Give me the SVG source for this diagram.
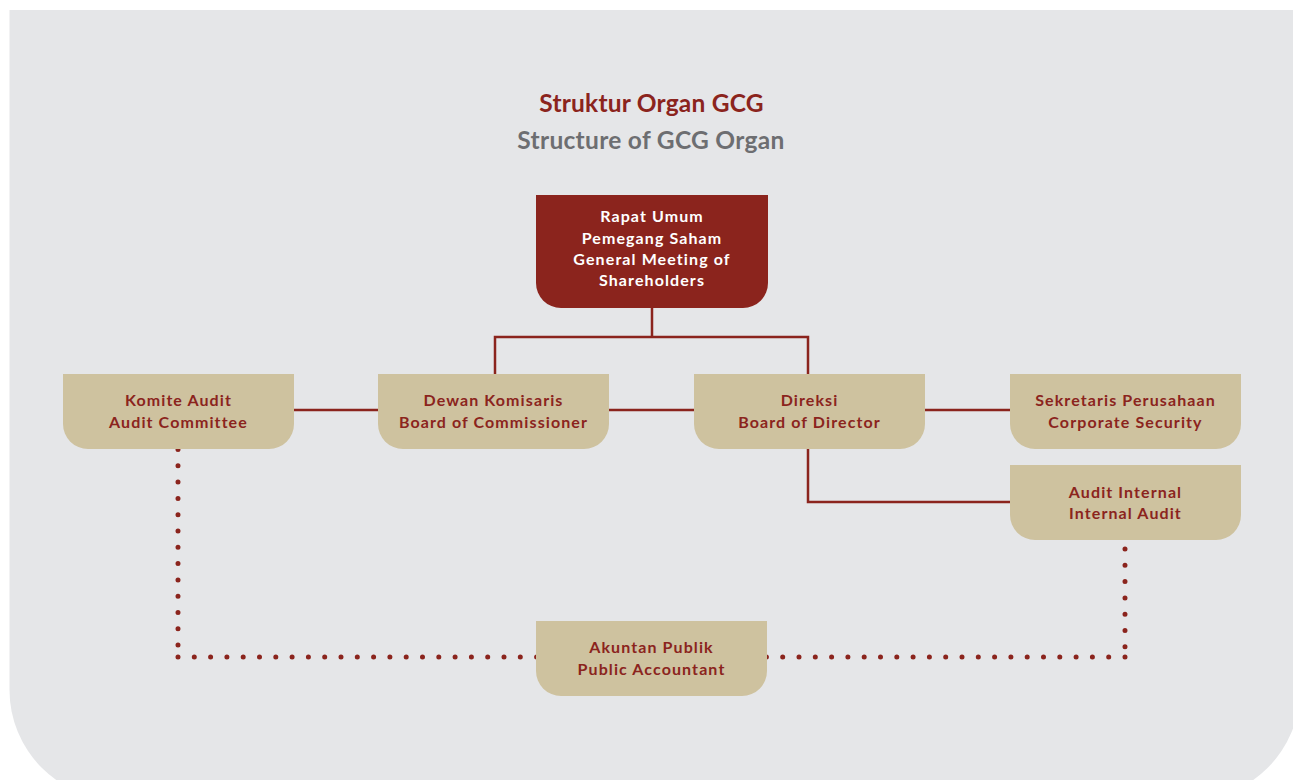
<svg xmlns="http://www.w3.org/2000/svg" width="1293" height="780" viewBox="0 0 1293 780">
<style>
.red{fill:#8b241d}
.tan{fill:#cec29f}
.t{font-family:Lato,"Open Sans","Liberation Sans",sans-serif;font-weight:700;font-size:16px;text-anchor:middle;letter-spacing:1.1px}
.tr{fill:#8b241d}
.tw{fill:#ffffff}
.line{fill:none;stroke:#8b241d;stroke-width:2.5}
.dot{fill:none;stroke:#8b241d;stroke-width:5;stroke-linecap:round;stroke-dasharray:0 16.3}
</style>
<rect width="1293" height="780" fill="#ffffff"/>
<path d="M9.5,10 H1300 V690 A110,110 0 0 1 1190,800 H119.5 A110,110 0 0 1 9.5,690 Z" fill="#e5e6e8"/>
<g id="title" font-family="Lato,'Open Sans','Liberation Sans',sans-serif" font-weight="700" text-anchor="middle">
<text x="651.5" y="112" font-size="24.5" fill="#8b241d" letter-spacing="0.2">Struktur Organ GCG</text>
<text x="651" y="149" font-size="24.5" fill="#6d6e71" letter-spacing="0.3">Structure of GCG Organ</text>
</g>
<g id="connectors">
<path class="line" d="M652,308 V337 M495,374 V337 H808 V374"/>
<path class="line" d="M294,410 H378 M609,410 H694 M925,410 H1010"/>
<path class="line" d="M808,449 V502 H1010"/>
<path class="dot" d="M178,449.5 V650 M178,657 H545"/>
<path class="dot" d="M1125,549 V650 M1125,657 H760"/>
</g>
<g id="rups">
<path class="red" d="M536,195 H768 V283 A25,25 0 0 1 743,308 H561 A25,25 0 0 1 536,283 Z"/>
<text class="t tw" x="652" y="222">Rapat Umum</text>
<text class="t tw" x="652" y="244">Pemegang Saham</text>
<text class="t tw" x="652" y="265">General Meeting of</text>
<text class="t tw" x="652" y="286">Shareholders</text>
</g>
<g id="komite">
<path class="tan" d="M63,374 H294 V424 A25,25 0 0 1 269,449 H88 A25,25 0 0 1 63,424 Z"/>
<text class="t tr" x="178.5" y="406">Komite Audit</text>
<text class="t tr" x="178.5" y="428">Audit Committee</text>
</g>
<g id="dewan">
<path class="tan" d="M378,374 H609 V424 A25,25 0 0 1 584,449 H403 A25,25 0 0 1 378,424 Z"/>
<text class="t tr" x="493.5" y="406">Dewan Komisaris</text>
<text class="t tr" x="493.5" y="428">Board of Commissioner</text>
</g>
<g id="direksi">
<path class="tan" d="M694,374 H925 V424 A25,25 0 0 1 900,449 H719 A25,25 0 0 1 694,424 Z"/>
<text class="t tr" x="809.5" y="406">Direksi</text>
<text class="t tr" x="809.5" y="428">Board of Director</text>
</g>
<g id="sekretaris">
<path class="tan" d="M1010,374 H1241 V424 A25,25 0 0 1 1216,449 H1035 A25,25 0 0 1 1010,424 Z"/>
<text class="t tr" x="1125.5" y="406">Sekretaris Perusahaan</text>
<text class="t tr" x="1125.5" y="428">Corporate Security</text>
</g>
<g id="audit-internal">
<path class="tan" d="M1010,465 H1241 V515 A25,25 0 0 1 1216,540 H1035 A25,25 0 0 1 1010,515 Z"/>
<text class="t tr" x="1125.5" y="498">Audit Internal</text>
<text class="t tr" x="1125.5" y="519">Internal Audit</text>
</g>
<g id="akuntan">
<path class="tan" d="M536,621 H767 V671 A25,25 0 0 1 742,696 H561 A25,25 0 0 1 536,671 Z"/>
<text class="t tr" x="651.5" y="653">Akuntan Publik</text>
<text class="t tr" x="651.5" y="675">Public Accountant</text>
</g>
</svg>
